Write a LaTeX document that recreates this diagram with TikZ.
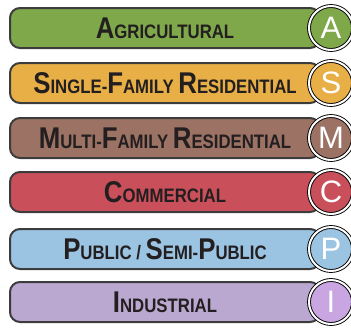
\documentclass[tikz,border=0pt]{standalone}
\usepackage{fontspec}
\setmainfont{Liberation Sans}[FakeStretch=0.86]
\setsansfont{Liberation Sans}
\usepackage{tikz}
\definecolor{agri}{HTML}{7EA84A}
\definecolor{single}{HTML}{E8AF47}
\definecolor{multi}{HTML}{9B7263}
\definecolor{comm}{HTML}{C9505A}
\definecolor{public}{HTML}{9BC3E2}
\definecolor{indus}{HTML}{BAA8D0}
\definecolor{indusdot}{HTML}{C9A5E1}
\definecolor{rim}{HTML}{3C3C3C}
\definecolor{ink}{HTML}{231F20}
\newcommand*{\lgc}[1]{{\fontsize{30}{30}\selectfont #1}}
\newcommand*{\smc}[1]{{\fontsize{19.5}{19.5}\selectfont #1}}
\tikzset{
    bar/.style = {draw=rim, line width=2pt, rounded corners=10pt, minimum width=310pt, minimum height=40pt, text=ink, font=\bfseries, inner sep=0pt},
    dot/.style = {circle, draw=black, line width=0.9pt, double=white, double distance=2pt, minimum size=44pt, inner sep=0pt, text=white, font=\sffamily\fontsize{31}{31}\selectfont}
}

\begin{document}
\begin{tikzpicture}[x=1pt, y=-1pt]
    \useasboundingbox (0,0) rectangle (351,327);
        \node [bar, fill=agri  ] (agribar)   at (165, 28) {\lgc{A}\smc{GRICULTURAL}};
        \node [bar, fill=single] (singlebar) at (165, 83) {\lgc{S}\smc{INGLE-}\lgc{F}\smc{AMILY }\lgc{R}\smc{ESIDENTIAL}};
        \node [bar, fill=multi ] (multibar)  at (165,138) {\lgc{M}\smc{ULTI-}\lgc{F}\smc{AMILY }\lgc{R}\smc{ESIDENTIAL}};
        \node [bar, fill=comm  ] (commbar)   at (165,192) {\lgc{C}\smc{OMMERCIAL}};
        \node [bar, fill=public] (publicbar) at (165,249) {\lgc{P}\smc{UBLIC / }\lgc{S}\smc{EMI-}\lgc{P}\smc{UBLIC}};
        \node [bar, fill=indus ] (indusbar)  at (165,302) {\lgc{I}\smc{NDUSTRIAL}};
        \node [dot, fill=agri    ] (agridot)   at (331, 28) {A};
        \node [dot, fill=single  ] (singledot) at (331, 83) {S};
        \node [dot, fill=multi   ] (multidot)  at (331,138) {M};
        \node [dot, fill=comm    ] (commdot)   at (331,192) {C};
        \node [dot, fill=public  ] (publicdot) at (331,249) {P};
        \node [dot, fill=indusdot] (indusdot)  at (331,302) {I};
    \end{tikzpicture}
\end{document}
